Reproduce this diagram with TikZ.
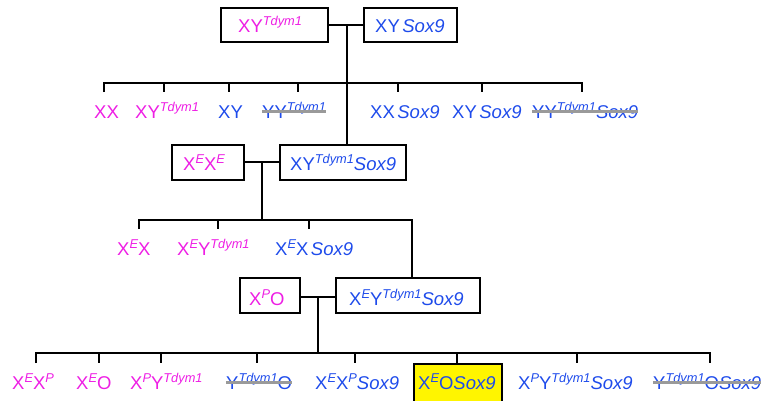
\documentclass[tikz,border=0pt]{standalone}
\usepackage{fontspec}
\setmainfont{Liberation Sans}
\definecolor{mag}{RGB}{238,30,228}
\definecolor{blu}{RGB}{30,75,235}
\definecolor{strk}{RGB}{154,154,154}
\definecolor{yel}{RGB}{255,245,0}
\newcommand\gs[1]{\raisebox{7pt}{\fontsize{12.8}{12.8}\selectfont\itshape #1}}
\newcommand\sx{\kern2.5pt\textit{Sox9}}
\newcommand\sxx{\textit{Sox9}}
\tikzset{
  lab/.style={anchor=base west, inner sep=0pt, font=\fontsize{18.5}{20}\selectfont},
  mg/.style={lab, text=mag},
  bl/.style={lab, text=blu},
  gbox/.style={draw=black, line width=2.6pt, inner sep=0pt, fill=white},
  conn/.style={line width=2.5pt, black},
  strike/.style={line width=3pt, strk}
}
\begin{document}
\begin{tikzpicture}[x=1pt, y=-1pt]
\useasboundingbox (0,0) rectangle (764,400);
\clip (0,0) rectangle (764,400);
% boxes
\node[gbox, minimum width=107pt, minimum height=34pt] (b1) at (274.5,25) {};
\node[gbox, minimum width=93pt, minimum height=34pt] (b2) at (410.5,25) {};
\node[gbox, minimum width=72pt, minimum height=35pt] (b3) at (208,162.5) {};
\node[gbox, minimum width=126pt, minimum height=35pt] (b4) at (343,162.5) {};
\node[gbox, minimum width=60pt, minimum height=35pt] (b5) at (270,295.5) {};
\node[gbox, minimum width=144pt, minimum height=35pt] (b6) at (408,295.5) {};
\node[gbox, fill=yel, minimum width=88pt, minimum height=44pt] (b7) at (458,386) {};
% box texts
\node[mg] (t1) at (238,32) {XY\gs{Tdym1}};
\node[bl] (t2) at (375,32) {XY\sx};
\node[mg] (t3) at (183,170) {X\gs{E}X\gs{E}};
\node[bl] (t4) at (290,170.5) {XY\gs{Tdym1}\sxx};
\node[mg] (t5) at (249,305) {X\gs{P}O};
\node[bl] (t6) at (349,305) {X\gs{E}Y\gs{Tdym1}\sxx};
\node[bl] (t7) at (418,389) {X\gs{E}O\sxx};
% generation 1 offspring
\node[mg] (a1) at (94,118.5) {XX};
\node[mg] (a2) at (135,118.5) {XY\gs{Tdym1}};
\node[bl] (a3) at (218,118.5) {XY};
\node[bl] (a4) at (262,118.5) {YY\gs{Tdym1}};
\node[bl] (a5) at (370,118.5) {XX\sx};
\node[bl] (a6) at (452,118.5) {XY\sx};
\node[bl] (a7) at (532,118.5) {YY\gs{Tdym1}\sxx};
% generation 2 offspring
\node[mg] (c1) at (117,255.5) {X\gs{E}X};
\node[mg] (c2) at (177,255.5) {X\gs{E}Y\gs{Tdym1}};
\node[bl] (c3) at (275,255.5) {X\gs{E}X\sx};
% generation 3 offspring
\node[mg] (d1) at (12,389) {X\gs{E}X\gs{P}};
\node[mg] (d2) at (76,389) {X\gs{E}O};
\node[mg] (d3) at (130,389) {X\gs{P}Y\gs{Tdym1}};
\node[bl] (d4) at (226,389) {Y\gs{Tdym1}O};
\node[bl] (d5) at (315,389) {X\gs{E}X\gs{P}\sxx};
\node[bl] (d6) at (518,389) {X\gs{P}Y\gs{Tdym1}\sxx};
\node[bl] (d7) at (653,389) {Y\gs{Tdym1}O\sxx};
% strikes
\foreach \n in {a4,a7,d4,d7}
  \draw[strike] ([yshift=7pt]\n.base west) -- ([yshift=7pt]\n.base east);
% cross 1
\coordinate (j1) at (347,25);
\draw[conn] (b1.east |- j1) -- (b2.west |- j1);
\draw[conn] (j1) -- (j1 |- b4.north);
\coordinate (k1) at (104,92);
\coordinate (k7) at (582,92);
\draw[conn] (k1) -- (104,83) -- (582,83) -- (k7);
\foreach \x in {164,229,298,398,482}
  \draw[conn] (\x,83) -- (\x,92);
% cross 2
\coordinate (j2) at (262,162);
\draw[conn] (b3.east |- j2) -- (b4.west |- j2);
\draw[conn] (j2) -- (262,220);
\coordinate (k2) at (139,229);
\draw[conn] (k2) -- (139,220) -- (412,220) -- (412,0 |- b6.north);
\foreach \x in {218,309}
  \draw[conn] (\x,220) -- (\x,229);
% cross 3
\coordinate (j3) at (318,297);
\draw[conn] (b5.east |- j3) -- (b6.west |- j3);
\draw[conn] (j3) -- (318,353);
\coordinate (k3) at (36,363);
\coordinate (k4) at (710,363);
\draw[conn] (k3) -- (36,353) -- (710,353) -- (k4);
\foreach \x in {99,161,257,355,577}
  \draw[conn] (\x,353) -- (\x,363);
\draw[conn] (457,353) -- (457,0 |- b7.north);
\end{tikzpicture}
\end{document}
